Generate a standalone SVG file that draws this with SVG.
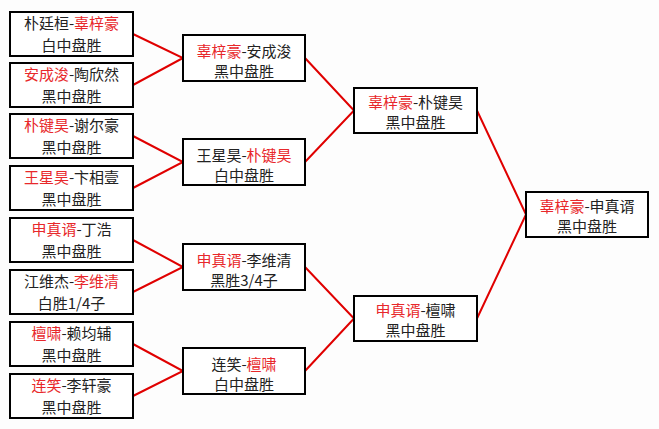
<svg xmlns="http://www.w3.org/2000/svg" width="659" height="429" viewBox="0 0 659 429">
<style>
.box{fill:#fff;stroke:#000;stroke-width:2}
.t{font-family:"Noto Sans CJK SC","Liberation Sans",sans-serif;font-size:15px;fill:#222;text-anchor:middle}
.r{fill:#e8282b}
.c{stroke:#e00000;stroke-width:2;fill:none}
</style>
<rect width="659" height="429" fill="#fdfdfd"/>
<g id="connectors">
<polyline class="c" points="133,34 183,58 133,85"/>
<polyline class="c" points="133,136 183,162 133,188"/>
<polyline class="c" points="133,240 183,267 133,292"/>
<polyline class="c" points="133,344 183,371 133,396"/>
<polyline class="c" points="305,58 354,110.5 305,162"/>
<polyline class="c" points="305,267 354,318.5 305,371"/>
<polyline class="c" points="477,110.5 526,214.5 477,318.5"/>
</g>
<g id="n1"><rect class="box" x="10" y="12" width="123" height="44"/><text class="t" x="71.5" y="29">朴廷桓-<tspan class="r">辜梓豪</tspan></text><text class="t" x="71.5" y="51">白中盘胜</text></g>
<g id="n2"><rect class="box" x="10" y="63" width="123" height="44"/><text class="t" x="71.5" y="80"><tspan class="r">安成浚</tspan>-陶欣然</text><text class="t" x="71.5" y="102">黑中盘胜</text></g>
<g id="n3"><rect class="box" x="10" y="114" width="123" height="44"/><text class="t" x="71.5" y="131"><tspan class="r">朴键昊</tspan>-谢尔豪</text><text class="t" x="71.5" y="153">黑中盘胜</text></g>
<g id="n4"><rect class="box" x="10" y="166" width="123" height="44"/><text class="t" x="71.5" y="183"><tspan class="r">王星昊</tspan>-卞相壹</text><text class="t" x="71.5" y="205">黑中盘胜</text></g>
<g id="n5"><rect class="box" x="10" y="218" width="123" height="44"/><text class="t" x="71.5" y="235"><tspan class="r">申真谞</tspan>-丁浩</text><text class="t" x="71.5" y="257">黑中盘胜</text></g>
<g id="n6"><rect class="box" x="10" y="270" width="123" height="44"/><text class="t" x="71.5" y="287">江维杰-<tspan class="r">李维清</tspan></text><text class="t" x="71.5" y="309">白胜1/4子</text></g>
<g id="n7"><rect class="box" x="10" y="322" width="123" height="44"/><text class="t" x="71.5" y="339"><tspan class="r">檀啸</tspan>-赖均辅</text><text class="t" x="71.5" y="361">黑中盘胜</text></g>
<g id="n8"><rect class="box" x="10" y="374" width="123" height="44"/><text class="t" x="71.5" y="391"><tspan class="r">连笑</tspan>-李轩豪</text><text class="t" x="71.5" y="413">黑中盘胜</text></g>
<g id="m1"><rect class="box" x="183" y="35" width="122" height="46"/><text class="t" x="244" y="57"><tspan class="r">辜梓豪</tspan>-安成浚</text><text class="t" x="244" y="77">黑中盘胜</text></g>
<g id="m2"><rect class="box" x="183" y="139" width="122" height="46"/><text class="t" x="244" y="161">王星昊-<tspan class="r">朴键昊</tspan></text><text class="t" x="244" y="181">白中盘胜</text></g>
<g id="m3"><rect class="box" x="183" y="244" width="122" height="46"/><text class="t" x="244" y="266"><tspan class="r">申真谞</tspan>-李维清</text><text class="t" x="244" y="286">黑胜3/4子</text></g>
<g id="m4"><rect class="box" x="183" y="348" width="122" height="46"/><text class="t" x="244" y="370">连笑-<tspan class="r">檀啸</tspan></text><text class="t" x="244" y="390">白中盘胜</text></g>
<g id="s1"><rect class="box" x="354" y="88" width="123" height="45"/><text class="t" x="415.5" y="108"><tspan class="r">辜梓豪</tspan>-朴键昊</text><text class="t" x="415.5" y="128">黑中盘胜</text></g>
<g id="s2"><rect class="box" x="354" y="296" width="123" height="45"/><text class="t" x="415.5" y="316"><tspan class="r">申真谞</tspan>-檀啸</text><text class="t" x="415.5" y="336">黑中盘胜</text></g>
<g id="f1"><rect class="box" x="526" y="192" width="122" height="45"/><text class="t" x="587" y="212"><tspan class="r">辜梓豪</tspan>-申真谞</text><text class="t" x="587" y="232">黑中盘胜</text></g>
</svg>
